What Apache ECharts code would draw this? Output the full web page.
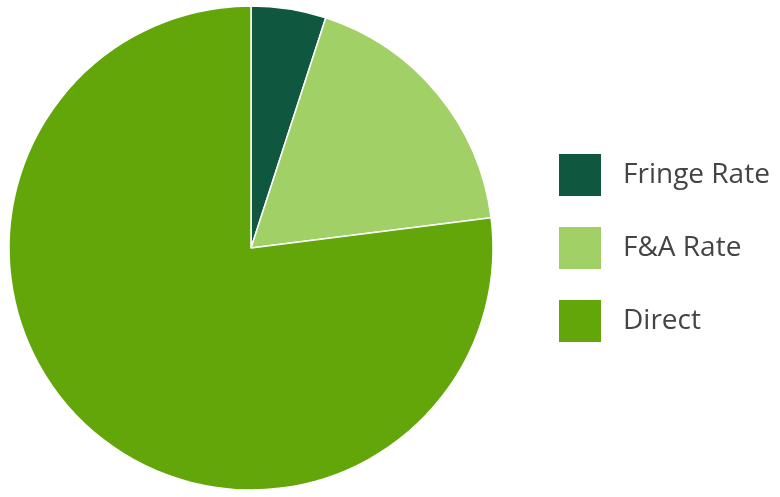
<!DOCTYPE html>
<html>
<head>
<meta charset="utf-8">
<script src="https://cdn.jsdelivr.net/npm/echarts@6/dist/echarts.min.js"></script>
<style>
html, body { margin: 0; padding: 0; background: #fff; }
#pieChart { width: 780px; height: 497px; }
</style>
</head>
<body>
<div id="pieChart"></div>
<script>
// 数据
var categories = ['Fringe Rate', 'F&A Rate', 'Direct'];
var shares = [5, 18, 77];
var colors = ['#10573f', '#a1d166', '#63a60a'];

var pieChart = echarts.init(document.getElementById('pieChart'));
var pieChartOption = {
	color: colors,
	animation: false,
	legend: {
		orient: 'vertical',
		left: 552,
		top: 147,
		itemWidth: 44,
		itemHeight: 44,
		itemGap: 27,
		icon: 'rect',
		selectedMode: false,
		textStyle: {
			fontFamily: 'Open Sans',
			fontSize: 28,
			lineHeight: 44,
			color: '#444',
			padding: [0, 0, 0, 16]
		},
		data: categories
	},
	series: [{
		name: 'Budget',
		type: 'pie',
		center: [251, 248],
		radius: 242,
		startAngle: 90,
		clockwise: true,
		label: { show: false },
		labelLine: { show: false },
		emphasis: { disabled: true },
		itemStyle: {
			borderColor: '#fff',
			borderWidth: 1.5
		},
		data: categories.map(function (name, i) {
			return { name: name, value: shares[i] };
		})
	}]
};
pieChart.setOption(pieChartOption);
</script>
</body>
</html>
